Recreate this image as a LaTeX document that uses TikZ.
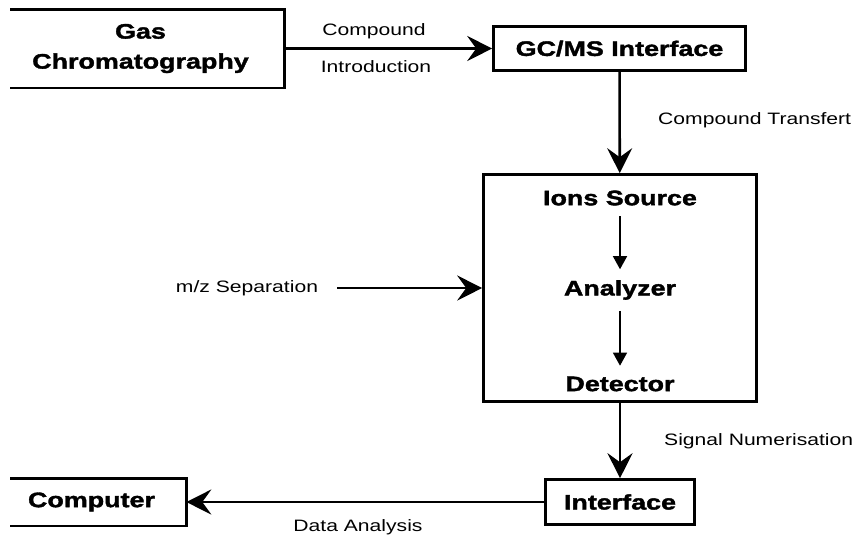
\documentclass[tikz,border=0pt]{standalone}
\usepackage{fontspec}
\setmainfont{Liberation Sans}[FakeStretch=1.28]
\newfontfamily\heavyfont{Liberation Sans Bold}[FakeStretch=1.28,FakeBold=1.8]
\usetikzlibrary{arrows.meta,positioning}

\begin{document}
\begin{tikzpicture}[x=1pt, y=-1pt,
    box/.style={draw, line width=2.6pt, inner sep=0pt, align=center,
        font=\heavyfont\fontsize{21}{30}\selectfont},
    openbox/.style={box, draw=none},
    edge/.style={line width=2.6pt},
    stage/.style={inner sep=0pt, outer sep=11pt,
        font=\heavyfont\fontsize{21}{30}\selectfont},
    lbl/.style={inner sep=0pt, font=\fontsize{16.5}{20}\selectfont},
    flow/.style={line width=2.6pt, -{Stealth[length=25pt,width=25pt,inset=9pt]}},
    subflow/.style={line width=1.4pt, -{Triangle[length=13pt,width=14pt]}}]

    \useasboundingbox (0,0) rectangle (858,539);
    \coordinate (pageL) at (10,0);

    % Boxes (the two on the left are open on their left side)
    \node[openbox, minimum width=285pt, minimum height=76pt] (gc) at (140.5,48.5) {Gas\\Chromatography};
    \node[box, minimum width=252pt, minimum height=44pt] (gcms) at (619.5,48.5) {GC/MS Interface};
    \node[box, minimum width=273pt, minimum height=227pt] (ms) at (620,288) {};
    \node[box, minimum width=149pt, minimum height=45pt] (iface) at (620,502) {Interface};
    \node[openbox, minimum width=187pt, minimum height=45pt] (comp) at (91.5,502) {Computer};
    \draw[edge] (gc.north -| pageL) -- (gc.north east) -- (gc.south east) -- (gc.south -| pageL);
    \draw[edge] (comp.north -| pageL) -- (comp.north east) -- (comp.south east) -- (comp.south -| pageL);

    % Inside the spectrometer
    \node[stage] (ions) at (620,198) {Ions Source};
    \node[stage] (anal) at (620,290) {Analyzer};
    \node[stage] (det) at (620,384) {Detector};
    \draw[subflow] (ions) -- (anal);
    \draw[subflow] (anal) -- (det);

    % Labels
    \node[lbl] (intro1) at (374,31) {Compound};
    \node[lbl] (intro2) at (376,67) {Introduction};
    \node[lbl, anchor=west] (transfer) at (658,120) {Compound Transfert};
    \node[lbl, outer sep=19pt] (mz) at (247,288) {m/z Separation};
    \node[lbl, anchor=west] (numer) at (664,441) {Signal Numerisation};
    \node[lbl] (data) at (358,527) {Data Analysis};

    % Main flow
    \draw[flow] (gc) -- (gcms);
    \draw[flow] (gcms) -- (ms);
    \draw[flow] (mz.east) -- (ms.west |- mz);
    \draw[flow] (ms) -- (iface);
    \draw[flow] (iface) -- (comp);
\end{tikzpicture}
\end{document}
